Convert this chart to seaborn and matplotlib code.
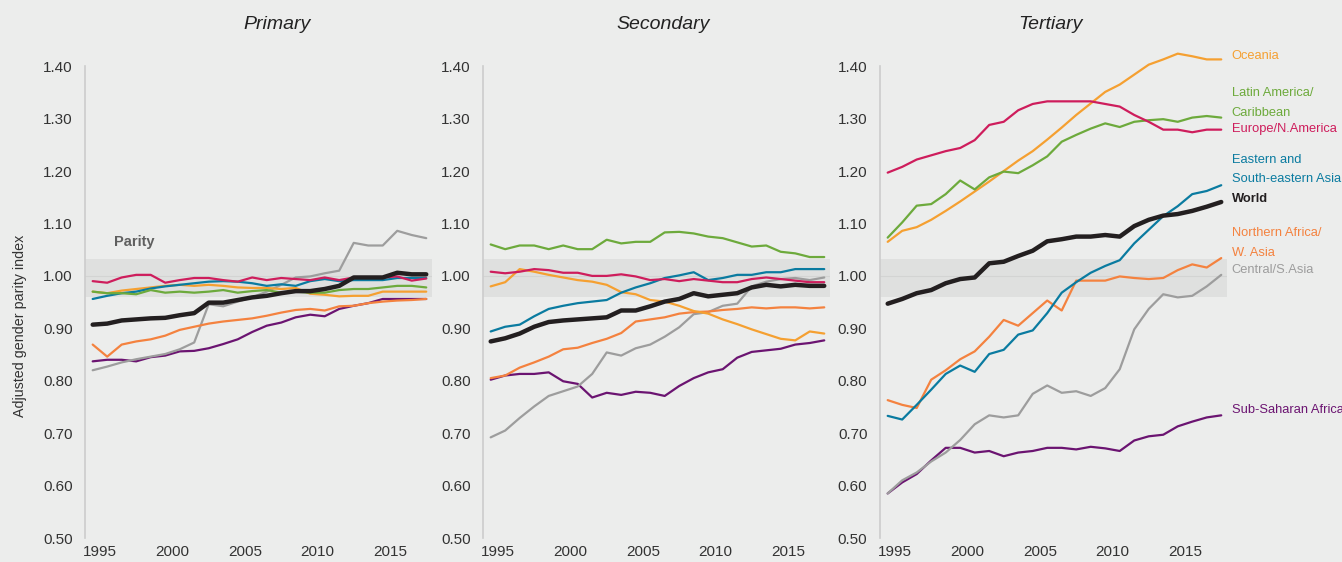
# adjusted gender parity index by education level, 1995-2018
import seaborn as sns
import matplotlib.pyplot as plt
import numpy as np
import pandas as pd

years = list(range(1995, 2019))
levels = ['Primary', 'Secondary', 'Tertiary']
regions = ['Sub-Saharan Africa', 'Central/S.Asia', 'Northern Africa/W. Asia', 'Oceania',
           'Eastern and South-eastern Asia', 'Latin America/Caribbean', 'Europe/N.America', 'World']

# primary
primary_world = [0.907, 0.909, 0.915, 0.917, 0.919, 0.920, 0.925, 0.929, 0.949, 0.949, 0.954, 0.959,
                 0.962, 0.967, 0.971, 0.971, 0.975, 0.981, 0.997, 0.997, 0.997, 1.006, 1.003, 1.003]
primary_europe = [0.990, 0.987, 0.997, 1.002, 1.002, 0.987, 0.992, 0.996, 0.996, 0.992, 0.989, 0.997,
                  0.992, 0.996, 0.994, 0.992, 0.997, 0.992, 0.997, 0.997, 0.997, 0.999, 0.991, 0.995]
primary_easia = [0.956, 0.962, 0.967, 0.970, 0.976, 0.980, 0.983, 0.986, 0.989, 0.990, 0.989, 0.986,
                 0.981, 0.984, 0.981, 0.990, 0.994, 0.990, 0.992, 0.992, 0.992, 0.996, 0.996, 0.996]
primary_oceania = [0.970, 0.967, 0.972, 0.975, 0.978, 0.981, 0.983, 0.981, 0.983, 0.981, 0.978, 0.977,
                   0.977, 0.975, 0.977, 0.966, 0.964, 0.961, 0.962, 0.962, 0.970, 0.970, 0.970, 0.970]
primary_latam = [0.970, 0.967, 0.967, 0.965, 0.973, 0.968, 0.970, 0.968, 0.970, 0.973, 0.968, 0.971,
                 0.973, 0.968, 0.970, 0.968, 0.968, 0.973, 0.975, 0.975, 0.978, 0.981, 0.981, 0.978]
primary_csasia = [0.820, 0.827, 0.835, 0.841, 0.846, 0.851, 0.860, 0.873, 0.946, 0.942, 0.951, 0.959,
                  0.970, 0.983, 0.997, 0.999, 1.005, 1.010, 1.063, 1.058, 1.058, 1.086, 1.078, 1.072]
primary_nafrica = [0.869, 0.846, 0.869, 0.875, 0.879, 0.886, 0.897, 0.903, 0.909, 0.913, 0.916, 0.919,
                   0.924, 0.930, 0.935, 0.937, 0.934, 0.942, 0.943, 0.948, 0.951, 0.953, 0.954, 0.956]
primary_ssafrica = [0.837, 0.840, 0.840, 0.837, 0.845, 0.848, 0.856, 0.857, 0.862, 0.870, 0.879, 0.893,
                    0.905, 0.911, 0.921, 0.926, 0.923, 0.937, 0.943, 0.948, 0.956, 0.956, 0.956, 0.956]

# secondary
secondary_world = [0.875, 0.881, 0.890, 0.903, 0.912, 0.915, 0.917, 0.919, 0.921, 0.934, 0.934, 0.942,
                   0.951, 0.956, 0.967, 0.961, 0.964, 0.967, 0.978, 0.983, 0.980, 0.983, 0.981, 0.981]
secondary_europe = [1.008, 1.005, 1.008, 1.013, 1.011, 1.006, 1.006, 1.000, 1.000, 1.003, 0.999, 0.992,
                    0.994, 0.990, 0.994, 0.991, 0.988, 0.988, 0.994, 0.997, 0.994, 0.991, 0.988, 0.988]
secondary_easia = [0.894, 0.903, 0.907, 0.923, 0.937, 0.943, 0.948, 0.951, 0.954, 0.968, 0.978, 0.986,
                   0.996, 1.001, 1.007, 0.992, 0.996, 1.002, 1.002, 1.007, 1.007, 1.013, 1.013, 1.013]
secondary_oceania = [0.980, 0.988, 1.013, 1.008, 1.002, 0.997, 0.992, 0.989, 0.983, 0.969, 0.965, 0.954,
                     0.951, 0.943, 0.933, 0.928, 0.917, 0.908, 0.898, 0.889, 0.880, 0.877, 0.894, 0.890]
secondary_latam = [1.060, 1.051, 1.058, 1.058, 1.051, 1.058, 1.051, 1.051, 1.069, 1.062, 1.065, 1.065,
                   1.083, 1.084, 1.081, 1.075, 1.072, 1.064, 1.056, 1.058, 1.046, 1.043, 1.036, 1.036]
secondary_csasia = [0.692, 0.705, 0.729, 0.751, 0.771, 0.780, 0.789, 0.813, 0.854, 0.848, 0.862, 0.869,
                    0.884, 0.902, 0.927, 0.931, 0.943, 0.947, 0.980, 0.989, 0.994, 0.996, 0.992, 0.997]
secondary_nafrica = [0.805, 0.810, 0.825, 0.835, 0.846, 0.860, 0.863, 0.872, 0.880, 0.891, 0.913, 0.917,
                     0.921, 0.928, 0.931, 0.932, 0.935, 0.937, 0.940, 0.938, 0.940, 0.940, 0.938, 0.940]
secondary_ssafrica = [0.802, 0.810, 0.813, 0.813, 0.816, 0.799, 0.794, 0.768, 0.777, 0.773, 0.779, 0.777,
                      0.771, 0.790, 0.805, 0.816, 0.822, 0.844, 0.855, 0.858, 0.861, 0.869, 0.872, 0.877]

# tertiary
tertiary_world = [0.947, 0.956, 0.967, 0.973, 0.986, 0.994, 0.997, 1.024, 1.027, 1.038, 1.048, 1.066,
                  1.070, 1.075, 1.075, 1.078, 1.075, 1.095, 1.107, 1.115, 1.118, 1.124, 1.132, 1.141]
tertiary_europe = [1.197, 1.208, 1.222, 1.230, 1.238, 1.244, 1.259, 1.288, 1.294, 1.316, 1.328, 1.333,
                   1.333, 1.333, 1.333, 1.328, 1.323, 1.307, 1.294, 1.279, 1.279, 1.274, 1.279, 1.279]
tertiary_easia = [0.733, 0.726, 0.754, 0.783, 0.813, 0.829, 0.817, 0.851, 0.859, 0.888, 0.896, 0.929,
                  0.968, 0.988, 1.006, 1.019, 1.030, 1.062, 1.088, 1.114, 1.133, 1.156, 1.162, 1.173]
tertiary_oceania = [1.065, 1.086, 1.093, 1.107, 1.124, 1.142, 1.161, 1.180, 1.200, 1.220, 1.238, 1.260,
                    1.283, 1.307, 1.329, 1.351, 1.365, 1.384, 1.403, 1.413, 1.424, 1.419, 1.413, 1.413]
tertiary_latam = [1.073, 1.102, 1.134, 1.137, 1.156, 1.182, 1.165, 1.188, 1.199, 1.196, 1.211, 1.228,
                  1.256, 1.269, 1.281, 1.291, 1.284, 1.294, 1.297, 1.299, 1.294, 1.302, 1.305, 1.302]
tertiary_csasia = [0.585, 0.610, 0.625, 0.646, 0.663, 0.687, 0.717, 0.734, 0.730, 0.734, 0.775, 0.791,
                   0.777, 0.780, 0.771, 0.786, 0.822, 0.898, 0.937, 0.965, 0.959, 0.962, 0.980, 1.002]
tertiary_nafrica = [0.763, 0.754, 0.748, 0.802, 0.820, 0.841, 0.856, 0.884, 0.916, 0.905, 0.929, 0.953,
                    0.934, 0.991, 0.991, 0.991, 0.999, 0.996, 0.994, 0.996, 1.011, 1.022, 1.016, 1.034]
tertiary_ssafrica = [0.585, 0.606, 0.622, 0.648, 0.672, 0.672, 0.663, 0.666, 0.656, 0.663, 0.666, 0.672,
                     0.672, 0.669, 0.674, 0.671, 0.666, 0.686, 0.694, 0.697, 0.713, 0.722, 0.730, 0.734]

colors = {'World': '#231F20', 'Latin America/Caribbean': '#6DAA3C', 'Europe/N.America': '#CE1D5C',
          'Eastern and South-eastern Asia': '#0A7BA0', 'Oceania': '#F5A031',
          'Northern Africa/W. Asia': '#F4823F', 'Central/S.Asia': '#9D9D9D',
          'Sub-Saharan Africa': '#6B1471'}

# label lines at the right of the tertiary panel: text, region (for colour), y position
end_labels = [('Oceania', 'Oceania', 1.419),
              ('Latin America/', 'Latin America/Caribbean', 1.349),
              ('Caribbean', 'Latin America/Caribbean', 1.310),
              ('Europe/N.America', 'Europe/N.America', 1.280),
              ('Eastern and', 'Eastern and South-eastern Asia', 1.221),
              ('South-eastern Asia', 'Eastern and South-eastern Asia', 1.185),
              ('World', 'World', 1.147),
              ('Northern Africa/', 'Northern Africa/W. Asia', 1.082),
              ('W. Asia', 'Northern Africa/W. Asia', 1.044),
              ('Central/S.Asia', 'Central/S.Asia', 1.011),
              ('Sub-Saharan Africa', 'Sub-Saharan Africa', 0.745)]

tick_years = [1995, 2000, 2005, 2010, 2015]
y_ticks = [0.5, 0.6, 0.7, 0.8, 0.9, 1.0, 1.1, 1.2, 1.3, 1.4]

series = {
    'Primary': [primary_ssafrica, primary_csasia, primary_nafrica, primary_oceania, primary_easia,
                primary_latam, primary_europe, primary_world],
    'Secondary': [secondary_ssafrica, secondary_csasia, secondary_nafrica, secondary_oceania, secondary_easia,
                  secondary_latam, secondary_europe, secondary_world],
    'Tertiary': [tertiary_ssafrica, tertiary_csasia, tertiary_nafrica, tertiary_oceania, tertiary_easia,
                 tertiary_latam, tertiary_europe, tertiary_world],
}

rows = []
for level in levels:
    for region, vals in zip(regions, series[level]):
        for yr, v in zip(years, vals):
            rows.append({'level': level, 'region': region, 'year': yr, 'value': v})
df = pd.DataFrame(rows)

bg = '#ECEDEC'
band = '#DFE0DF'
sns.set_theme(style='white')
plt.rcParams['font.family'] = ['Liberation Sans', 'DejaVu Sans']

fig = plt.figure(figsize=(13.42, 5.62), dpi=100)
fig.patch.set_facecolor(bg)

lefts = [85 / 1342, 483 / 1342, 880 / 1342]
title_x = [277 / 1342, 663 / 1342, 1050 / 1342]

for level, left, tx in zip(levels, lefts, title_x):
    ax = fig.add_axes([left, 0.0427, 0.2586, 0.8861])
    ax.set_facecolor(bg)
    ax.axhspan(0.96, 1.032, color=band, lw=0, zorder=0)
    ax.axhline(1.0, color='#D3D4D3', lw=0.8, zorder=0.5)

    sub = df[(df.level == level) & (df.region != 'World')]
    sns.lineplot(data=sub, x='year', y='value', hue='region', hue_order=regions[:-1],
                 palette=colors, linewidth=1.6, legend=False, ax=ax)
    world = df[(df.level == level) & (df.region == 'World')]
    sns.lineplot(data=world, x='year', y='value', color=colors['World'], linewidth=3.2, ax=ax)

    ax.set_xlim(1994.47, 2018.4)
    ax.set_ylim(0.5, 1.45)
    ax.set_yticks(y_ticks)
    ax.set_yticklabels([f'{v:.2f}' for v in y_ticks])
    ax.set_xticks([t + 0.5 for t in tick_years])
    ax.set_xticklabels([str(t) for t in tick_years])
    ax.set_xlabel('')
    ax.set_ylabel('')
    for s in ['top', 'right', 'bottom']:
        ax.spines[s].set_visible(False)
    ax.spines['left'].set_color('#CCCCCC')
    ax.spines['left'].set_linewidth(1.2)
    ax.spines['left'].set_bounds(0.5, 1.4)
    ax.tick_params(axis='y', length=3, color='#CCCCCC', width=1, pad=6, labelsize=11, labelcolor='#333333')
    ax.tick_params(axis='x', length=0, pad=5, labelsize=11, labelcolor='#333333')
    fig.text(tx, 0.957, level, ha='center', va='center', fontsize=14, style='italic', color='#222222')

    if level == 'Primary':
        ax.text(1996.47, 1.065, 'Parity', fontsize=10.5, fontweight='bold', color='#5F5F5F',
                va='center', ha='left')
    if level == 'Tertiary':
        for text, region, yv in end_labels:
            ax.text(2018.72, yv, text, fontsize=9.3, color=colors[region],
                    va='center', ha='left', clip_on=False,
                    fontweight='bold' if region == 'World' else 'normal')

fig.text(20 / 1342, 1 - 326 / 562, 'Adjusted gender parity index', rotation=90, ha='center', va='center',
         fontsize=10.3, color='#333333')

plt.savefig('out.png', dpi=100, facecolor=bg)
